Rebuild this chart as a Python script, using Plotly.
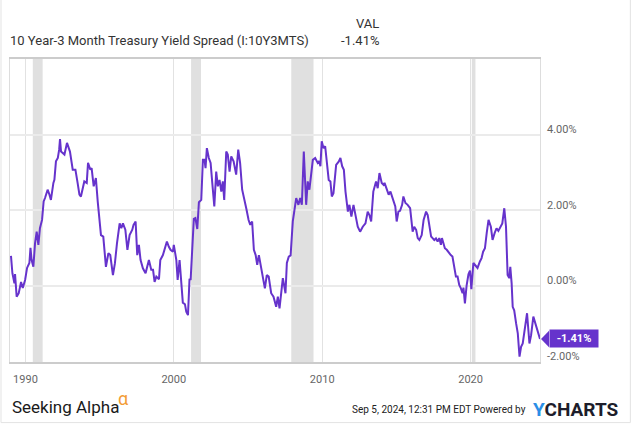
import plotly.graph_objects as go

# ---- data ----
dates = [
    "1989-01-10", "1989-02-14", "1989-04-05", "1989-04-20", "1989-05-30", "1989-07-20", "1989-09-15",
    "1989-10-27", "1989-12-24", "1990-02-10", "1990-04-08", "1990-05-05", "1990-06-02", "1990-07-15",
    "1990-08-25", "1990-10-05", "1990-11-15", "1990-12-24", "1991-02-14", "1991-03-25", "1991-04-28",
    "1991-07-01", "1991-08-15", "1991-09-20", "1991-11-20", "1991-12-15", "1992-01-22", "1992-03-08",
    "1992-04-10", "1992-05-01", "1992-05-26", "1992-08-18", "1992-10-20", "1993-01-01", "1993-03-10",
    "1993-05-15", "1993-07-08", "1993-08-22", "1993-09-28", "1993-12-20", "1994-02-18", "1994-03-22",
    "1994-05-18", "1994-06-18", "1994-08-08", "1994-10-01", "1994-11-15", "1995-02-03", "1995-04-01",
    "1995-06-05", "1995-08-05", "1995-09-20", "1995-11-25", "1996-01-12", "1996-03-03", "1996-05-08",
    "1996-06-18", "1996-07-28", "1996-09-25", "1996-11-15", "1997-01-08", "1997-03-15", "1997-04-15",
    "1997-06-05", "1997-07-15", "1997-08-25", "1997-10-05", "1997-12-01", "1998-02-05", "1998-04-28",
    "1998-06-25", "1998-08-08", "1998-09-15", "1998-10-28", "1999-01-01", "1999-02-03", "1999-04-08",
    "1999-05-18", "1999-07-15", "1999-09-01", "1999-10-12", "1999-12-10", "2000-01-01", "2000-03-03",
    "2000-04-05", "2000-05-22", "2000-07-01", "2000-08-10", "2000-10-01", "2000-11-03", "2000-12-15",
    "2001-01-22", "2001-02-18", "2001-03-22", "2001-05-08", "2001-06-15", "2001-08-01", "2001-09-10",
    "2001-11-07", "2001-12-17", "2002-01-26", "2002-02-20", "2002-03-25", "2002-05-12", "2002-06-25",
    "2002-08-05", "2002-09-24", "2002-11-10", "2002-12-20", "2003-01-30", "2003-03-15", "2003-04-22",
    "2003-05-26", "2003-07-15", "2003-08-22", "2003-10-05", "2003-11-15", "2004-01-12", "2004-03-15",
    "2004-05-05", "2004-06-20", "2004-08-10", "2004-10-08", "2004-11-18", "2005-01-15", "2005-02-25",
    "2005-04-12", "2005-05-25", "2005-07-08", "2005-08-15", "2005-09-25", "2005-11-20", "2006-01-01",
    "2006-02-20", "2006-04-08", "2006-05-25", "2006-07-25", "2006-09-20", "2006-11-25", "2007-01-05",
    "2007-02-15", "2007-03-28", "2007-05-08", "2007-07-12", "2007-08-15", "2007-10-01", "2007-11-15",
    "2008-01-08", "2008-02-15", "2008-04-01", "2008-05-25", "2008-07-08", "2008-08-18", "2008-10-05",
    "2008-12-02", "2009-01-10", "2009-02-20", "2009-04-05", "2009-05-15", "2009-07-12", "2009-09-12",
    "2009-10-15", "2009-11-18", "2009-12-20", "2010-02-03", "2010-03-15", "2010-04-22", "2010-06-10",
    "2010-07-22", "2010-08-25", "2010-10-05", "2010-12-10", "2011-02-15", "2011-03-25", "2011-05-08",
    "2011-06-18", "2011-07-28", "2011-09-25", "2011-11-02", "2011-12-20", "2012-02-10", "2012-03-28",
    "2012-05-25", "2012-07-22", "2012-09-25", "2012-12-01", "2013-01-25", "2013-03-08", "2013-04-20",
    "2013-06-12", "2013-08-18", "2013-09-28", "2013-11-10", "2014-01-05", "2014-02-18", "2014-03-15",
    "2014-05-08", "2014-06-25", "2014-08-08", "2014-09-18", "2014-10-28", "2014-12-05", "2015-01-08",
    "2015-02-20", "2015-04-01", "2015-05-22", "2015-06-22", "2015-08-12", "2015-10-05", "2015-12-05",
    "2016-02-05", "2016-03-15", "2016-05-01", "2016-06-10", "2016-07-20", "2016-09-15", "2016-11-01",
    "2017-01-01", "2017-02-10", "2017-03-22", "2017-05-05", "2017-06-10", "2017-07-22", "2017-09-01",
    "2017-10-12", "2017-11-22", "2018-01-01", "2018-01-26", "2018-03-01", "2018-04-08", "2018-05-25",
    "2018-07-22", "2018-09-01", "2018-10-12", "2018-11-25", "2019-01-05", "2019-02-15", "2019-03-28",
    "2019-05-08", "2019-06-18", "2019-07-10", "2019-08-15", "2019-09-25", "2019-11-10", "2019-12-18",
    "2020-01-20", "2020-03-10", "2020-04-22", "2020-06-20", "2020-08-18", "2020-09-28", "2020-11-05",
    "2020-12-20", "2021-02-01", "2021-03-18", "2021-05-15", "2021-06-25", "2021-08-15", "2021-10-01",
    "2021-11-15", "2022-01-20", "2022-02-20", "2022-04-10", "2022-05-22", "2022-07-01", "2022-08-10",
    "2022-09-05", "2022-10-08", "2022-11-03", "2022-12-10", "2023-01-26", "2023-03-08", "2023-04-20",
    "2023-05-28", "2023-07-08", "2023-09-05", "2023-10-22", "2023-12-20", "2024-01-30", "2024-03-25",
    "2024-05-15", "2024-06-25", "2024-09-05",
]
spread = [
    0.79, 0.33, 0.06, 0.31, -0.29, -0.20, 0.10,
    -0.06, 0.15, 0.47, 0.60, 1.00, 0.68, 0.50,
    1.12, 1.43, 1.08, 1.52, 1.74, 2.23, 2.32,
    2.54, 2.41, 2.27, 2.72, 2.80, 3.29, 3.38,
    3.60, 3.88, 3.55, 3.47, 3.78, 3.55, 3.07,
    3.07, 2.72, 2.41, 2.36, 2.76, 2.72, 3.25,
    3.07, 3.11, 2.63, 2.85, 2.23, 1.34, 1.30,
    0.50, 0.86, 0.81, 0.28, 0.59, 1.12, 1.65,
    1.52, 1.65, 1.48, 0.95, 1.34, 1.48, 1.61,
    1.70, 0.81, 1.08, 0.68, 0.46, 0.33, 0.68,
    0.42, 0.42, 0.10, 0.24, 0.17, 0.68, 0.81,
    0.99, 1.17, 1.03, 0.95, 0.90, 1.08, 0.68,
    0.15, 0.68, 0.06, -0.45, -0.49, -0.69, -0.78,
    0.18, 0.15, 0.90, 1.77, 1.79, 1.50, 2.21,
    2.27, 3.33, 3.33, 3.11, 3.64, 3.38, 3.25,
    2.72, 2.10, 3.02, 2.63, 2.80, 2.49, 2.76,
    2.27, 3.55, 3.47, 3.02, 3.42, 3.29, 2.94,
    3.60, 3.25, 2.54, 2.19, 2.05, 1.74, 1.61,
    1.70, 0.95, 0.81, 0.55, 0.81, 0.50, 0.24,
    -0.07, 0.28, 0.24, -0.20, -0.29, -0.56, -0.29,
    -0.60, -0.20, 0.20, -0.20, 0.60, 0.77, 0.80,
    1.70, 1.95, 2.32, 2.14, 2.32, 2.14, 3.55,
    2.14, 2.76, 2.54, 2.89, 3.33, 3.38, 3.25,
    3.30, 3.16, 3.82, 3.64, 3.69, 3.33, 2.80,
    2.76, 2.36, 2.45, 3.20, 3.29, 3.38, 3.16,
    3.07, 2.49, 1.96, 2.14, 1.83, 2.14, 1.83,
    1.56, 1.43, 1.56, 1.65, 1.96, 1.87, 1.70,
    2.49, 2.76, 2.58, 2.98, 2.72, 2.67, 2.72,
    2.54, 2.41, 2.49, 2.36, 2.19, 2.10, 1.70,
    1.96, 1.98, 2.14, 2.36, 2.19, 2.14, 2.05,
    1.43, 1.56, 1.48, 1.26, 1.21, 1.34, 1.74,
    1.96, 1.87, 1.61, 1.30, 1.26, 1.21, 1.25,
    1.17, 1.26, 1.08, 1.26, 1.15, 0.99, 0.95,
    0.86, 0.81, 0.77, 0.42, 0.24, 0.24, 0.02,
    -0.07, -0.20, -0.05, -0.47, 0.00, 0.30, 0.40,
    -0.09, 0.60, 0.55, 0.47, 0.64, 0.73, 0.90,
    0.99, 1.39, 1.74, 1.56, 1.21, 1.39, 1.52,
    1.45, 1.61, 1.65, 2.05, 1.56, 0.28, 0.20,
    0.50, 0.06, -0.56, -0.65, -1.00, -1.26, -1.88,
    -1.62, -1.53, -1.09, -0.73, -1.53, -1.31, -0.82,
    -1.00, -1.18, -1.41,
]
recession_starts = ["1990-07-01", "2001-03-01", "2007-12-01", "2020-02-01"]
recession_ends = ["1991-03-01", "2001-11-01", "2009-06-01", "2020-04-30"]
x_tick_vals = ["1990-01-01", "2000-01-01", "2010-01-01", "2020-01-01"]
x_tick_text = ["1990", "2000", "2010", "2020"]
y_tick_vals = [-2, 0, 2, 4]
y_tick_text = ["-2.00%", "0.00%", "2.00%", "4.00%"]
series_name = "10 Year-3 Month Treasury Yield Spread (I:10Y3MTS)"
last_value_text = "-1.41%"

LINE = "#6633cc"
FONT = "Roboto"

fig = go.Figure()
fig.add_trace(go.Scatter(
    x=dates, y=spread, mode="lines",
    line=dict(color=LINE, width=2), hoverinfo="skip", showlegend=False,
))

shapes = []
for s, e in zip(recession_starts, recession_ends):
    shapes.append(dict(type="rect", xref="x", yref="paper", x0=s, x1=e, y0=0, y1=1,
                       fillcolor="#e0e0e0", line=dict(width=0), layer="below"))
# arrow of last value label
shapes.append(dict(type="path", xref="paper", yref="y", xsizemode="pixel", ysizemode="pixel",
                   xanchor=1, yanchor=spread[-1], path="M1,0 L9,8.3 L9,-8.3 Z",
                   fillcolor=LINE, line=dict(width=0), layer="above"))
# outer frame
shapes.append(dict(type="line", xref="paper", yref="paper", x0=-0.017, x1=-0.017, y0=-0.2, y1=1.2,
                   line=dict(color="#e3e3e3", width=1)))
shapes.append(dict(type="line", xref="paper", yref="paper", x0=1.1705, x1=1.1705, y0=-0.2, y1=1.2,
                   line=dict(color="#e3e3e3", width=1)))
shapes.append(dict(type="line", xref="paper", yref="paper", x0=-0.017, x1=1.1705, y0=-0.2, y1=-0.2,
                   line=dict(color="#e3e3e3", width=1)))

ann = []
for v, t in zip(y_tick_vals, y_tick_text):
    ann.append(dict(x=1, xref="paper", y=v, yref="y", text=t, showarrow=False, xanchor="left",
                    yanchor="middle", xshift=5, yshift=5, font=dict(family=FONT, size=11, color="#666666")))
ann.append(dict(x=1, xref="paper", y=spread[-1], yref="y", text="<b>" + last_value_text + "</b>",
                showarrow=False, xanchor="left", yanchor="middle", xshift=9, bgcolor=LINE,
                font=dict(family=FONT, size=11, color="white"), width=44, height=13, borderpad=2))
ann.append(dict(x=-0.004, xref="paper", y=1.0627, yref="paper", text=series_name, showarrow=False,
                xanchor="left", yanchor="middle", font=dict(family=FONT, size=13, color="#333333")))
ann.append(dict(x=0.70, xref="paper", y=1.1188, yref="paper", text="VAL", showarrow=False,
                xanchor="right", yanchor="middle", font=dict(family=FONT, size=13, color="#333333")))
ann.append(dict(x=0.70, xref="paper", y=1.0627, yref="paper", text=last_value_text, showarrow=False,
                xanchor="right", yanchor="middle", font=dict(family=FONT, size=13, color="#333333")))
ann.append(dict(x=0.0, xref="paper", y=-0.1485, yref="paper", text="Seeking Alpha", showarrow=False,
                xanchor="left", yanchor="middle", font=dict(family=FONT, size=17, color="#1a1a1a")))
ann.append(dict(x=0.2, xref="paper", y=-0.12, yref="paper", text="\u03b1", showarrow=False,
                xanchor="left", yanchor="middle", font=dict(family=FONT, size=18, color="#f39c35")))
ann.append(dict(x=0.9774, xref="paper", y=-0.1584, yref="paper",
                text="Sep 5, 2024, 12:31 PM EDT Powered by", showarrow=False,
                xanchor="right", yanchor="middle", font=dict(family=FONT, size=10, color="#222222")))
ann.append(dict(x=0.983, xref="paper", y=-0.156, yref="paper",
                text="<b><span style='color:#2b8ee6'>Y</span>CHARTS</b>", showarrow=False,
                xanchor="left", yanchor="middle", font=dict(family=FONT, size=19, color="#1d1d2b")))

fig.update_layout(
    width=635, height=424, autosize=False,
    margin=dict(l=10, r=95, t=59, b=62),
    paper_bgcolor="white", plot_bgcolor="white",
    shapes=shapes, annotations=ann,
    xaxis=dict(type="date", range=["1988-12-17", "2024-09-05"], tickvals=x_tick_vals,
               ticktext=x_tick_text, showgrid=True, gridcolor="#e2e2e2", gridwidth=1,
               showline=True, linecolor="#cccccc", linewidth=1.5, mirror=True, ticks="",
               tickfont=dict(family=FONT, size=11, color="#666666"), ticklabelstandoff=6,
               zeroline=False),
    yaxis=dict(range=[-2.02, 6.0], tickvals=y_tick_vals, showticklabels=False, showgrid=True,
               gridcolor="#ebebeb", gridwidth=1.5, showline=True, linecolor="#dddddd", linewidth=1,
               mirror=True, zeroline=False, ticks=""),
)

fig.write_html("out.html", config={"displayModeBar": False},
               post_script="document.body.style.margin='0px';document.body.style.overflow='hidden';")
